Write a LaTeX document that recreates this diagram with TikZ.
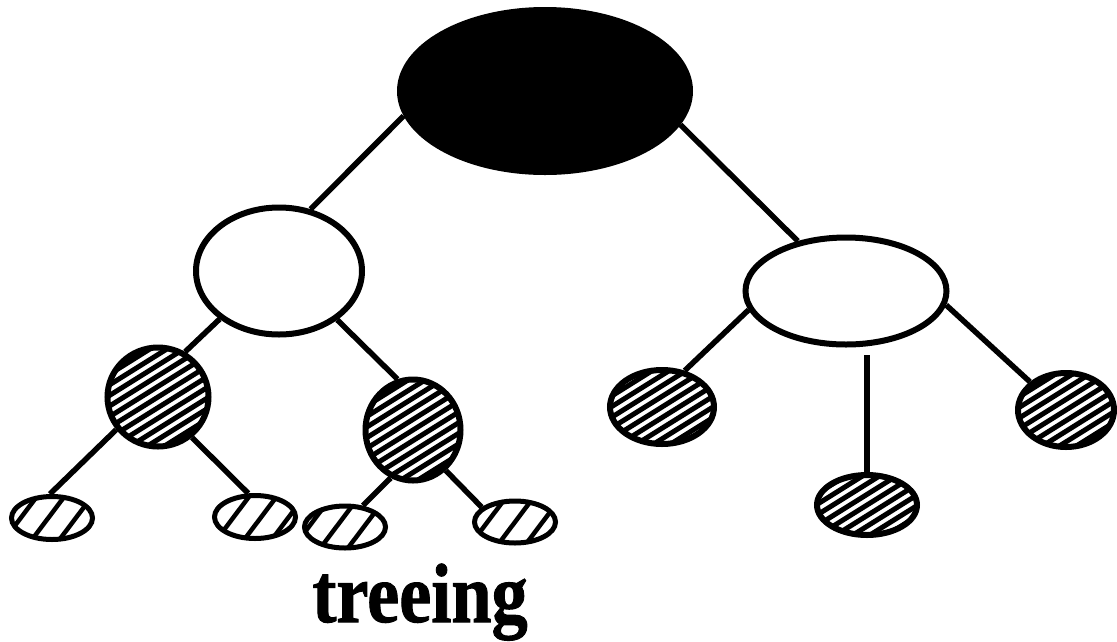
\documentclass[tikz,border=0pt]{standalone}
\usepackage{fontspec}
\setmainfont{Liberation Serif}
\newfontfamily\lblfont{Liberation Serif Bold}[FakeBold=1.2]
\usetikzlibrary{shapes.geometric,calc}
\begin{document}
\begin{tikzpicture}[x=1pt,y=1pt,
  ell/.style={ellipse, draw=black, line width=6pt, inner sep=0pt, fill=white},
  rootnode/.style={ellipse, draw=black, line width=2pt, inner sep=0pt, fill=black},
  dense/.style={path picture={
      \foreach \k in {-14,...,14}
        \draw[line width=5pt] ($(path picture bounding box.center)+(122:\k*9)+(32:-130)$) -- ++(32:260);}},
  sparse/.style={path picture={
      \foreach \k in {-4,...,4}
        \draw[line width=4.5pt] ($(path picture bounding box.center)+(143:\k*22+#1)+(53:-80)$) -- ++(53:160);}},
  edge/.style={line width=5.5pt}
]
\useasboundingbox (0,0) rectangle (1117,-641);

% root
\node[rootnode, minimum width=294, minimum height=166] (root) at (545,-91) {};
% second level
\node[ell, minimum width=166, minimum height=127] (L) at (279,-271) {};
\node[ell, minimum width=201, minimum height=107] (R) at (846,-291) {};
% third level
\node[ell, dense, minimum width=101, minimum height=99] (LL) at (158,-397) {};
\node[ell, dense, minimum width=95, minimum height=101] (LR) at (413,-430) {};
\node[ell, dense, minimum width=104, minimum height=74] (RL) at (662,-407) {};
\node[ell, dense, minimum width=100, minimum height=60] (RM) at (867,-505) {};
\node[ell, dense, minimum width=96, minimum height=74] (RR) at (1066,-410) {};
% leaves
\node[ell, sparse=3, line width=5pt, minimum width=81, minimum height=43] (A) at (52,-518) {};
\node[ell, sparse=-5, line width=5pt, minimum width=81, minimum height=43] (B) at (255,-517) {};
\node[ell, sparse=7, line width=5pt, minimum width=81, minimum height=42] (C) at (345,-527) {};
\node[ell, sparse=0, line width=5pt, minimum width=81, minimum height=42] (D) at (515,-522) {};

% connectors
\draw[edge] (root.190) -- (L.63);
\draw[edge] (root.346) -- (R.134);
\draw[edge] (L.219) -- (LL.59);
\draw[edge] (L.320) -- (LR.107);
\draw[edge] (LL.218) -- (A.95);
\draw[edge] (LL.310) -- (B.106);
\draw[edge] (LR.245) -- (C.50);
\draw[edge] (LR.309) -- (D.156);
\draw[edge] (R.191) -- (RL.58);
\draw[edge, shorten >=7pt] (RM.north) -- (RM.north |- R.south);
\draw[edge] (R.352) -- (RR.142);

% label
\node[anchor=base, inner sep=0pt, font=\fontsize{84}{84}\selectfont\lblfont] (lbl) at (420,-622) {\scalebox{0.86}[1]{treeing}};
\end{tikzpicture}
\end{document}
